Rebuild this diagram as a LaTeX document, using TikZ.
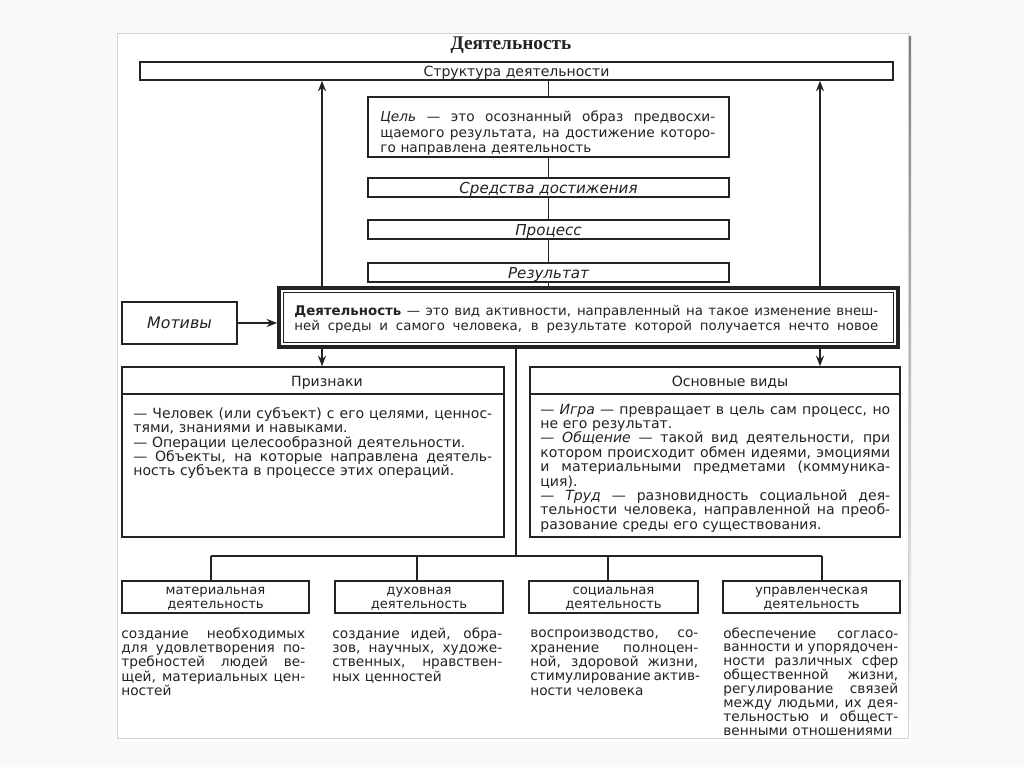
\documentclass[tikz,border=0pt]{standalone}
\usepackage{fontspec}
\setmainfont{DejaVu Sans}
\newfontfamily\titlefont{Liberation Serif}
\usepackage{xcolor}
\usetikzlibrary{calc,arrows.meta,positioning}
\definecolor{ink}{RGB}{35,35,35}
\definecolor{paper}{RGB}{249,249,249}
\definecolor{shade}{RGB}{165,165,165}
\newcommand{\jl}[1]{\makebox[\hsize][s]{\spaceskip=0.3em plus 1em minus 0.1em\relax #1}\\}
\newcommand{\tall}{\rule{0pt}{1.6ex}}

\begin{document}
\begin{tikzpicture}[x=0.02cm, y=-0.02cm, >=Stealth,
  box/.style={draw=ink, line width=0.9pt, inner sep=0pt, text=ink, font=\fontsize{8}{9}\selectfont},
  onerow/.style={text height=1.5ex, text depth=0.3ex},
  chain/.style={box, onerow, minimum width=7.22cm, minimum height=0.38cm, font=\itshape\fontsize{8.6}{9}\selectfont},
  smallbox/.style={box, align=center, font=\fontsize{7.5}{8}\selectfont},
  txt/.style={text=ink, inner sep=0pt, anchor=north west, align=left, font=\fontsize{7.6}{8.2}\selectfont,
    execute at begin node={\rule{0pt}{0.76em}}},
  head/.style={text=ink, onerow, font=\fontsize{8}{9}\selectfont},
  wire/.style={draw=ink, line width=0.9pt},
  arr/.style={wire, -{Stealth[length=6pt,width=4.6pt]}}]
  \useasboundingbox (0,0) rectangle (1024,767);
  % page
  \fill[paper] (0,0) rectangle (1024,767);
  \fill[shade] (120,37) rectangle (911,741);
  \fill[white] (117,33) rectangle (908,738);
  \draw[gray!35, line width=0.4pt] (117,33) rectangle (908,738);

  \node[text=ink, font=\titlefont\bfseries\fontsize{11}{13}\selectfont] (title) at (511,45) {Деятельность};

  % Structure
  \node[box, onerow, minimum width=15.06cm, minimum height=0.36cm] (struct) at (516.5,71) {Структура деятельности};
  \node[box, minimum width=7.22cm, minimum height=1.2cm] (goal) at (548.5,127) {};
  \node[txt, text width=6.7cm, font=\fontsize{7.8}{8.8}\selectfont] (goaltxt) at (380,111) {%
    \jl{\textit{Цель} — это осознанный образ предвосхи-}
    \jl{щаемого результата, на достижение которо-}
    го направлена деятельность};
  \node[chain] (means) at (548.5,187.5) {Средства достижения};
  \node[chain] (proc) at (548.5,229.5) {Процесс};
  \node[chain] (res) at (548.5,272.5) {Результат};

  % Activity
  \node[box, line width=2.2pt, minimum width=12.38cm, minimum height=1.18cm] (act) at (588.5,317.5) {};
  \draw[ink, line width=0.6pt] ($(act.north west)+(6,6)$) rectangle ($(act.south east)+(-6,-6)$);
  \node[txt, text width=11.68cm, font=\fontsize{7.6}{8.8}\selectfont] (acttxt) at (294,305) {%
    \jl{\textbf{Деятельность} — это вид активности, направленный на такое изменение внеш-}
    \jl{ней среды и самого человека, в результате которой получается нечто новое}};
  \node[box, onerow, minimum width=2.3cm, minimum height=0.84cm, font=\itshape\fontsize{9}{10}\selectfont] (motiv) at (179.5,323) {Мотивы};

  \coordinate (lx) at (322,0);
  \coordinate (rx) at (820,0);
  \coordinate (cx) at (548.5,0);

  \draw[wire] (struct.south -| cx) -- (goal.north);
  \draw[wire] (goal.south) -- (means.north);
  \draw[wire] (means.south) -- (proc.north);
  \draw[wire] (proc.south) -- (res.north);
  \draw[wire] (res.south) -- (res.south |- act.north);
  \draw[arr] (act.north -| lx) -- (struct.south -| lx);
  \draw[arr] (act.north -| rx) -- (struct.south -| rx);
  \draw[arr] (motiv.east) -- (motiv.east -| act.west);

  % Features and kinds
  \node[box, minimum width=7.64cm, minimum height=3.4cm] (feat) at (313,452) {};
  \node[box, minimum width=7.4cm, minimum height=3.4cm] (kinds) at (715,452) {};
  \draw[wire] ($(feat.north west)+(0,28)$) -- ($(feat.north east)+(0,28)$);
  \draw[wire] ($(kinds.north west)+(0,28)$) -- ($(kinds.north east)+(0,28)$);
  \node[head] (feathead) at ($(feat.north)+(14,15)$) {Признаки};
  \node[head] (kindshead) at ($(kinds.north)+(15,15)$) {Основные виды};
  \draw[arr] (act.south -| lx) -- (feat.north -| lx);
  \draw[arr] (act.south -| rx) -- (kinds.north -| rx);

  \node[txt, text width=7.18cm, font=\fontsize{8}{8.2}\selectfont] (feattxt) at (133,407) {%
    \jl{— Человек (или субъект) с его целями, ценнос-}
    тями, знаниями и навыками.\\
    — Операции целесообразной деятельности.\\
    \jl{— Объекты, на которые направлена деятель-}
    ность субъекта в процессе этих операций.};
  \node[txt, text width=7.0cm, font=\fontsize{8}{8.2}\selectfont] (kindstxt) at (540,403) {%
    \jl{— \textit{Игра} — превращает в цель сам процесс, но}
    не его результат.\\
    \jl{— \textit{Общение} — такой вид деятельности, при}
    \jl{котором происходит обмен идеями, эмоциями}
    \jl{и материальными предметами (коммуника-}
    ция).\\
    \jl{— \textit{Труд} — разновидность социальной дея-}
    \jl{тельности человека, направленной на преоб-}
    разование среды его существования.};

  % Spheres
  \coordinate (busC) at (516,556);
  \coordinate (b1) at (211,556);
  \coordinate (b2) at (417,556);
  \coordinate (b3) at (608,556);
  \coordinate (b4) at (822,556);
  \node[smallbox, minimum width=3.74cm, minimum height=0.64cm] (mat) at (215.5,597) {\tall материальная\\деятельность};
  \node[smallbox, minimum width=3.36cm, minimum height=0.64cm] (spir) at (419,597) {\tall духовная\\деятельность};
  \node[smallbox, minimum width=3.38cm, minimum height=0.64cm] (soc) at (613.5,597) {\tall социальная\\деятельность};
  \node[smallbox, minimum width=3.54cm, minimum height=0.64cm] (mgmt) at (811.5,597) {\tall управленческая\\деятельность};
  \draw[wire] (busC |- act.south) -- (busC);
  \draw[wire] (b1) -- (b4);
  \draw[wire] (b1) -- (b1 |- mat.north);
  \draw[wire] (b2) -- (b2 |- spir.north);
  \draw[wire] (b3) -- (b3 |- soc.north);
  \draw[wire] (b4) -- (b4 |- mgmt.north);

  \node[txt, text width=3.68cm, font=\fontsize{7.8}{8.2}\selectfont] (mattxt) at (121,627) {%
    \jl{создание необходимых}
    \jl{для удовлетворения по-}
    \jl{требностей людей ве-}
    \jl{щей, материальных цен-}
    ностей};
  \node[txt, text width=3.4cm, font=\fontsize{7.8}{8.2}\selectfont] (spirtxt) at (332,627) {%
    \jl{создание идей, обра-}
    \jl{зов, научных, художе-}
    \jl{ственных, нравствен-}
    ных ценностей};
  \node[txt, text width=3.36cm, font=\fontsize{7.8}{8.2}\selectfont] (soctxt) at (530,627) {%
    \jl{воспроизводство, со-}
    \jl{хранение полноцен-}
    \jl{ной, здоровой жизни,}
    \jl{стимулирование актив-}
    ности человека};
  \node[txt, text width=3.5cm, font=\fontsize{7.8}{7.9}\selectfont] (mgmttxt) at (723,627) {%
    \jl{обеспечение согласо-}
    \jl{ванности и упорядочен-}
    \jl{ности различных сфер}
    \jl{общественной жизни,}
    \jl{регулирование связей}
    \jl{между людьми, их дея-}
    \jl{тельностью и общест-}
    венными отношениями};
\end{tikzpicture}
\end{document}
